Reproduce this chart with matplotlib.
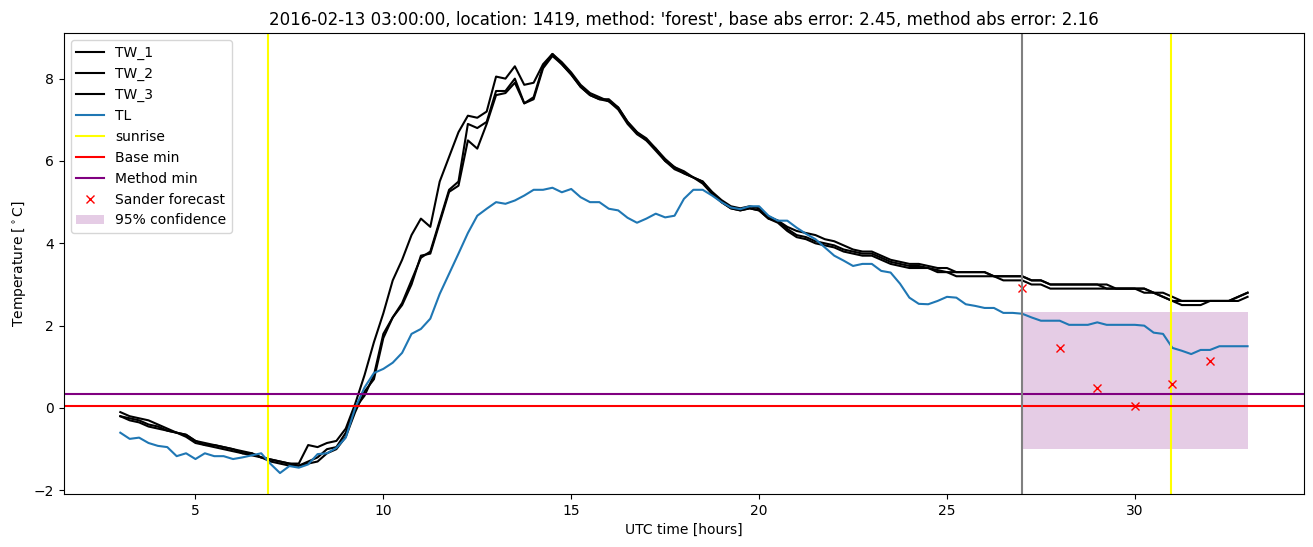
import numpy as np
import matplotlib
matplotlib.use("Agg")
import matplotlib.pyplot as plt

# time grid, hours UTC (15 min steps)
hours = np.arange(3, 33.001, 0.25)

tw_1 = [-0.1, -0.2, -0.25, -0.3,
        -0.4, -0.5, -0.6, -0.65,
        -0.8, -0.9, -0.9, -0.95,
        -1.0, -1.05, -1.1, -1.2,
        -1.25, -1.3, -1.35, -1.35,
        -0.9, -0.95, -0.85, -0.8,
        -0.5, 0.1, 0.8, 1.6,
        2.3, 3.1, 3.6, 4.2,
        4.6, 4.4, 5.5, 6.1,
        6.7, 7.1, 7.05, 7.2,
        8.05, 8.0, 8.3, 7.85,
        7.9, 8.35, 8.6, 8.4,
        8.15, 7.85, 7.65, 7.55,
        7.45, 7.3, 6.95, 6.7,
        6.55, 6.3, 6.05, 5.85,
        5.75, 5.6, 5.5, 5.25,
        5.05, 4.9, 4.85, 4.9,
        4.85, 4.65, 4.55, 4.4,
        4.3, 4.25, 4.2, 4.1,
        4.05, 3.95, 3.85, 3.8,
        3.8, 3.7, 3.6, 3.55,
        3.5, 3.5, 3.45, 3.4,
        3.4, 3.3, 3.3, 3.3,
        3.3, 3.2, 3.2, 3.2,
        3.2, 3.1, 3.1, 3.0,
        3.0, 3.0, 3.0, 3.0,
        3.0, 2.9, 2.9, 2.9,
        2.9, 2.9, 2.8, 2.7,
        2.6, 2.6, 2.6, 2.6,
        2.6, 2.6, 2.6, 2.7,
        2.8]

tw_2 = [-0.2, -0.3, -0.35, -0.45,
        -0.5, -0.55, -0.6, -0.7,
        -0.85, -0.9, -0.95, -1.0,
        -1.05, -1.1, -1.15, -1.2,
        -1.3, -1.35, -1.4, -1.4,
        -1.3, -1.2, -1.0, -0.95,
        -0.6, 0.0, 0.3, 0.8,
        1.8, 2.2, 2.55, 3.1,
        3.65, 3.8, 4.55, 5.3,
        5.5, 6.9, 6.8, 6.95,
        7.7, 7.7, 8.0, 7.4,
        7.55, 8.3, 8.6, 8.35,
        8.1, 7.8, 7.6, 7.5,
        7.45, 7.25, 6.9, 6.65,
        6.5, 6.25, 6.0, 5.8,
        5.7, 5.6, 5.45, 5.2,
        5.0, 4.85, 4.8, 4.85,
        4.8, 4.6, 4.5, 4.3,
        4.15, 4.1, 4.0, 3.95,
        3.9, 3.8, 3.75, 3.7,
        3.7, 3.6, 3.5, 3.45,
        3.4, 3.4, 3.4, 3.3,
        3.3, 3.2, 3.2, 3.2,
        3.2, 3.2, 3.1, 3.1,
        3.1, 3.0, 3.0, 2.9,
        2.9, 2.9, 2.9, 2.9,
        2.9, 2.9, 2.9, 2.9,
        2.9, 2.8, 2.8, 2.7,
        2.6, 2.5, 2.5, 2.5,
        2.6, 2.6, 2.6, 2.6,
        2.7]

tw_3 = [-0.2, -0.25, -0.3, -0.4,
        -0.45, -0.55, -0.6, -0.65,
        -0.8, -0.85, -0.9, -0.95,
        -1.0, -1.1, -1.1, -1.2,
        -1.25, -1.3, -1.35, -1.4,
        -1.35, -1.3, -1.1, -1.0,
        -0.7, -0.1, 0.4, 0.7,
        1.7, 2.2, 2.5, 3.0,
        3.7, 3.75, 4.5, 5.25,
        5.4, 6.5, 6.3, 6.9,
        7.6, 7.65, 7.9, 7.4,
        7.5, 8.25, 8.55, 8.35,
        8.1, 7.8, 7.6, 7.5,
        7.5, 7.3, 6.95, 6.7,
        6.5, 6.3, 6.0, 5.85,
        5.7, 5.6, 5.5, 5.2,
        5.0, 4.85, 4.8, 4.85,
        4.8, 4.6, 4.55, 4.35,
        4.2, 4.15, 4.05, 4.0,
        3.95, 3.85, 3.8, 3.75,
        3.75, 3.65, 3.55, 3.5,
        3.45, 3.45, 3.4, 3.35,
        3.3, 3.3, 3.3, 3.3,
        3.3, 3.2, 3.2, 3.2,
        3.2, 3.1, 3.1, 3.0,
        3.0, 3.0, 3.0, 3.0,
        3.0, 3.0, 2.9, 2.9,
        2.9, 2.9, 2.8, 2.8,
        2.7, 2.6, 2.6, 2.6,
        2.6, 2.6, 2.6, 2.7,
        2.8]

tl = [-0.6, -0.75, -0.72, -0.85,
      -0.92, -0.95, -1.17, -1.1,
      -1.24, -1.1, -1.17, -1.17,
      -1.24, -1.2, -1.15, -1.1,
      -1.36, -1.58, -1.41, -1.45,
      -1.37, -1.12, -1.1, -0.97,
      -0.72, 0.0, 0.5, 0.85,
      0.95, 1.1, 1.34, 1.8,
      1.92, 2.17, 2.77, 3.26,
      3.75, 4.25, 4.67, 4.84,
      5.0, 4.96, 5.04, 5.16,
      5.3, 5.3, 5.35, 5.24,
      5.32, 5.12, 5.0, 5.0,
      4.84, 4.8, 4.62, 4.5,
      4.6, 4.72, 4.63, 4.67,
      5.08, 5.3, 5.3, 5.16,
      5.0, 4.87, 4.83, 4.9,
      4.9, 4.67, 4.55, 4.55,
      4.38, 4.23, 4.1, 3.9,
      3.7, 3.58, 3.45, 3.5,
      3.5, 3.33, 3.29, 3.02,
      2.68, 2.53, 2.52, 2.6,
      2.7, 2.68, 2.52, 2.48,
      2.43, 2.43, 2.31, 2.31,
      2.29, 2.2, 2.12, 2.12,
      2.12, 2.02, 2.02, 2.02,
      2.08, 2.02, 2.02, 2.02,
      2.02, 2.0, 1.83, 1.8,
      1.46, 1.39, 1.31, 1.41,
      1.41, 1.5, 1.5, 1.5,
      1.5]

sunrise = [6.92, 30.95]
base_min = 0.05
method_min = 0.34
forecast_time = 27

sander_hours = [27, 28, 29, 30, 31, 32]
sander_temp = [2.91, 1.45, 0.49, 0.05, 0.58, 1.14]
conf_hours = [27, 33]
conf_low = [-0.99, -0.99]
conf_high = [2.34, 2.34]

fig, ax = plt.subplots(figsize=(13.13, 5.47), dpi=100)
fig.subplots_adjust(left=0.0487, right=0.9931, top=0.9397, bottom=0.0969)

ax.plot(hours, tw_1, color='black', label='TW_1')
ax.plot(hours, tw_2, color='black', label='TW_2')
ax.plot(hours, tw_3, color='black', label='TW_3')
ax.plot(hours, tl, color='tab:blue', label='TL')
for i, s in enumerate(sunrise):
    ax.axvline(s, color='yellow', label='sunrise' if i == 0 else None)
ax.axhline(base_min, color='red', label='Base min')
ax.axhline(method_min, color='purple', label='Method min')
ax.plot(sander_hours, sander_temp, 'rx', label='Sander forecast')
ax.fill_between(conf_hours, conf_low, conf_high, color='purple', alpha=0.2,
                linewidth=0, label='95% confidence')
ax.axvline(forecast_time, color='grey')

ax.set_xlabel('UTC time [hours]')
ax.set_ylabel(r'Temperature [$^\circ$C]')
ax.set_title("2016-02-13 03:00:00, location: 1419, method: 'forest', "
             "base abs error: 2.45, method abs error: 2.16")
ax.legend(loc='upper left')

fig.savefig('out.png', dpi=100)
